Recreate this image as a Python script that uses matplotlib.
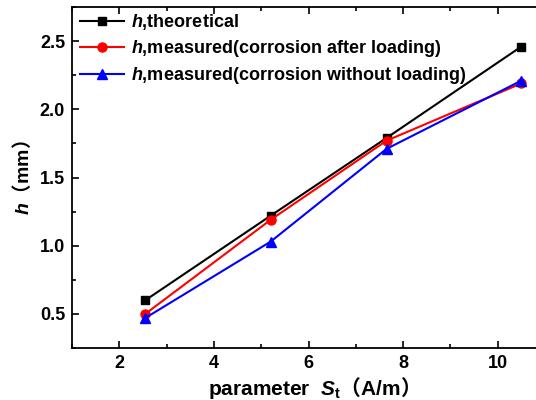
import matplotlib
matplotlib.use("Agg")
import matplotlib.pyplot as plt
from matplotlib.ticker import MultipleLocator

# datos
st = [2.55, 5.2, 7.65, 10.5]
h_teorico = [0.60, 1.22, 1.79, 2.46]
h_con_carga = [0.50, 1.19, 1.77, 2.19]
h_sin_carga = [0.47, 1.03, 1.71, 2.21]

etiquetas = [
    "$h$,theoretical",
    "$h$,measured(corrosion after loading)",
    "$h$,measured(corrosion without loading)",
]

plt.rcParams["font.family"] = ["Liberation Sans", "Noto Sans CJK SC"]
plt.rcParams["font.weight"] = "bold"
plt.rcParams["axes.labelweight"] = "bold"
plt.rcParams["mathtext.fontset"] = "custom"
plt.rcParams["mathtext.it"] = "Liberation Sans:italic:bold"
plt.rcParams["mathtext.rm"] = "Liberation Sans:bold"
plt.rcParams["mathtext.bf"] = "Liberation Sans:bold"
# parentesis de ancho completo
plt.rcParams["mathtext.sf"] = "Noto Sans CJK SC"

fig = plt.figure(figsize=(5.36, 4.0), dpi=100)
ax = fig.add_axes([72 / 536, 1 - 348 / 400, (545 - 72) / 536, (348 - 7) / 400])

ax.plot(st, h_teorico, color="black", marker="s", markersize=6, lw=1.5, label=etiquetas[0])
ax.plot(st, h_con_carga, color="red", marker="o", markersize=6.5, lw=1.5, label=etiquetas[1])
ax.plot(st, h_sin_carga, color="blue", marker="^", markersize=7, lw=1.5, label=etiquetas[2])

ax.set_xlim(1, 11)
ax.set_ylim(0.25, 2.75)
ax.xaxis.set_major_locator(MultipleLocator(2))
ax.xaxis.set_minor_locator(MultipleLocator(1))
ax.yaxis.set_major_locator(MultipleLocator(0.5))
ax.yaxis.set_minor_locator(MultipleLocator(0.25))
ax.tick_params(which="both", direction="in", top=True, right=True, labelsize=13, width=1.2)
ax.tick_params(which="major", length=5, pad=5)
ax.tick_params(which="minor", length=3)
for s in ax.spines.values():
    s.set_linewidth(1.3)

ax.set_xlabel("parameter  $S_\\mathrm{t}\\mathsf{（}$A/m$\\mathsf{）}$", fontsize=15,
              fontweight="bold", labelpad=2)
ax.set_ylabel("$h\\mathsf{（}$mm$\\mathsf{）}$", fontsize=14, fontweight="bold", labelpad=5)

ax.legend(loc="upper left", frameon=False, fontsize=13, handlelength=2.4,
          borderaxespad=0.0, borderpad=0.3, labelspacing=0.33, handletextpad=0.4,
          bbox_to_anchor=(0.006, 1.0))

fig.savefig("out.png", dpi=100)
